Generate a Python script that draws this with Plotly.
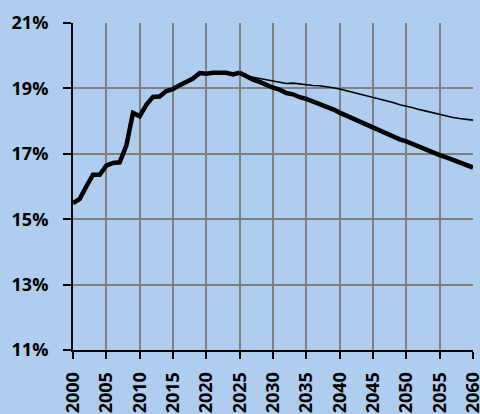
import plotly.graph_objects as go

# Years and shares (%)
years_hist = list(range(2000, 2026))
share_hist = [15.49, 15.62, 16.0, 16.36, 16.36, 16.64, 16.72, 16.74, 17.25, 18.25,
              18.15, 18.5, 18.74, 18.75, 18.92, 18.98, 19.1, 19.2, 19.3, 19.47,
              19.45, 19.48, 19.47, 19.48, 19.43, 19.48]

years_proj = list(range(2025, 2061))
share_thick = [19.48, 19.36, 19.27, 19.2, 19.1, 19.02, 18.96, 18.86, 18.82, 18.73,
               18.68, 18.6, 18.52, 18.46, 18.36, 18.26, 18.17, 18.07, 17.97, 17.88,
               17.79, 17.71, 17.62, 17.53, 17.44, 17.38, 17.29, 17.2, 17.12, 17.04,
               16.96, 16.89, 16.81, 16.74, 16.66, 16.58]
share_thin = [19.48, 19.38, 19.34, 19.3, 19.26, 19.22, 19.2, 19.15, 19.16, 19.13,
              19.12, 19.09, 19.08, 19.06, 19.02, 18.98, 18.93, 18.88, 18.83, 18.79,
              18.74, 18.69, 18.63, 18.57, 18.5, 18.46, 18.41, 18.35, 18.3, 18.25,
              18.2, 18.15, 18.11, 18.08, 18.05, 18.03]

y_ticks = [11, 13, 15, 17, 19, 21]
x_ticks = list(range(2000, 2061, 5))

bg = '#AFCDEE'
font = dict(family='Open Sans', size=18, color='black', weight='bold')

fig = go.Figure()
fig.add_trace(go.Scatter(x=years_proj, y=share_thin, mode='lines',
                         line=dict(color='black', width=1.6)))
fig.add_trace(go.Scatter(x=years_proj, y=share_thick, mode='lines',
                         line=dict(color='black', width=4.5)))
fig.add_trace(go.Scatter(x=years_hist, y=share_hist, mode='lines',
                         line=dict(color='black', width=4.5)))

fig.update_layout(
    width=480, height=414,
    margin=dict(l=73, r=7, t=23, b=64),
    paper_bgcolor=bg, plot_bgcolor=bg,
    showlegend=False,
    xaxis=dict(
        range=[2000, 2060], tickvals=x_ticks, ticktext=[str(v) for v in x_ticks],
        tickangle=-90, tickfont=font, ticks='outside', ticklen=7, tickwidth=2,
        tickcolor='black', showline=True, linecolor='black', linewidth=2,
        showgrid=True, gridcolor='#808080', gridwidth=1.5, zeroline=False,
        ticklabelstandoff=6, ticklabeloverflow='allow', automargin=False,
    ),
    yaxis=dict(
        range=[11, 21], tickvals=y_ticks, ticktext=[f'{v}%' for v in y_ticks],
        tickfont=font, ticks='outside', ticklen=8, tickwidth=2,
        tickcolor='black', showline=True, linecolor='black', linewidth=2,
        showgrid=True, gridcolor='#808080', gridwidth=1.5, zeroline=False,
        ticklabelstandoff=11, automargin=False,
    ),
)

# page body has a default margin; drop it so the figure sits at the corner
fig.write_html(
    "out.html",
    config={'displayModeBar': False},
    post_script="document.body.style.margin='0';"
                "document.body.style.overflow='hidden';"
                "document.body.style.background='%s';" % bg,
)
